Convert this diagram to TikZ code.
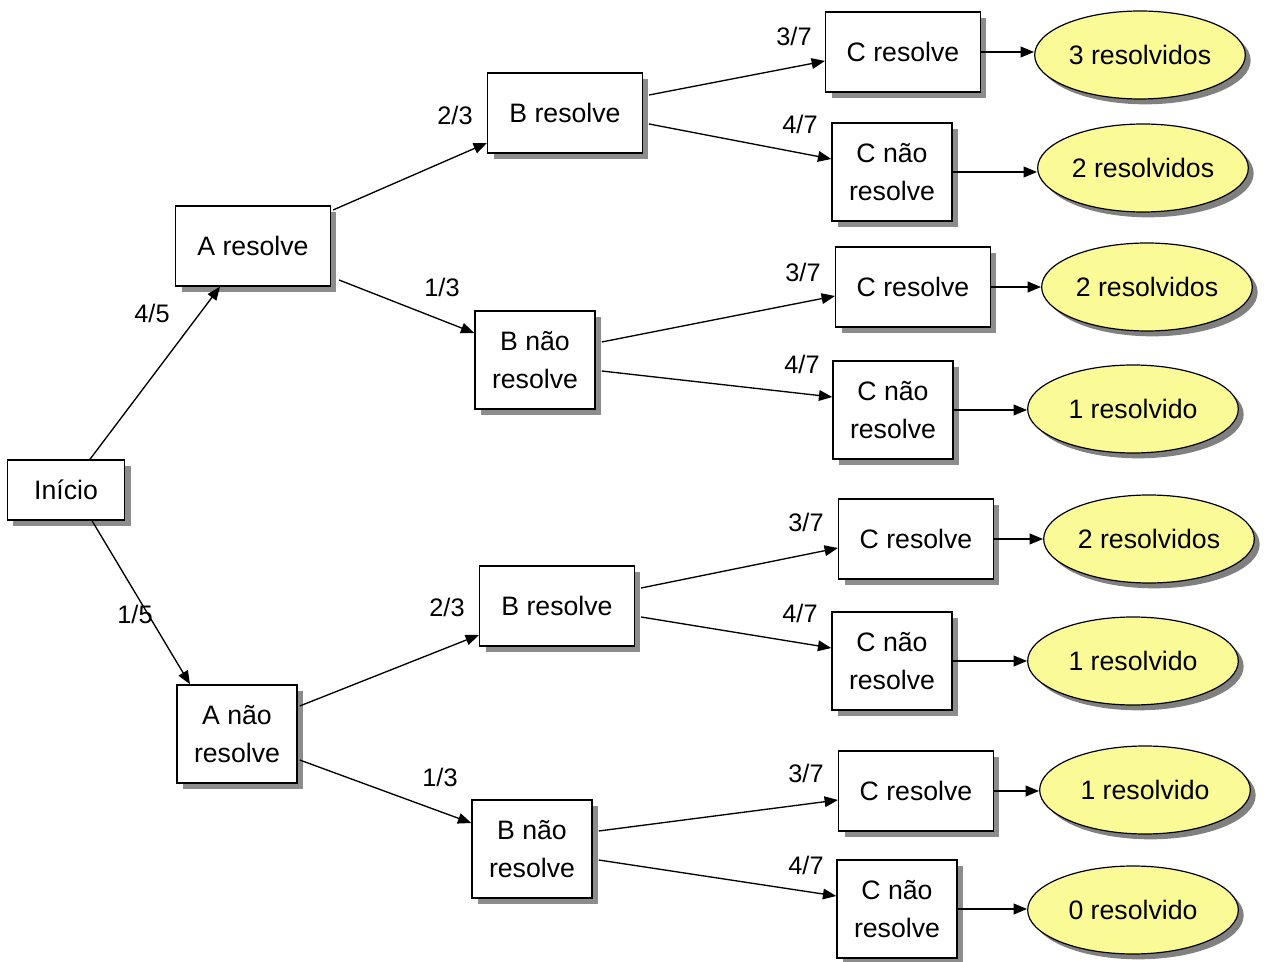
\documentclass[tikz,border=0pt]{standalone}
\usepackage{fontspec}
\setmainfont{Liberation Sans}
\usetikzlibrary{shapes.geometric,shadows,arrows.meta,calc}
\definecolor{outcomeyellow}{RGB}{250,250,150}
\begin{document}
\begin{tikzpicture}[x={(0.75pt,0pt)}, y={(0pt,-0.75pt)},
    box/.style={draw, line width=1.1pt, fill=white, inner sep=0pt, align=center,
        font=\fontsize{20}{28}\selectfont,
        drop shadow={shadow xshift=4.5pt, shadow yshift=-4.5pt, fill=black!45, opacity=1}},
    widebox/.style={box, minimum width=116pt, minimum height=60pt},
    tallbox/.style={box, minimum width=90pt, minimum height=73.5pt},
    outcome/.style={ellipse, draw, line width=0.9pt, fill=outcomeyellow, inner sep=0pt,
        minimum width=158pt, minimum height=66pt, font=\fontsize{20}{24}\selectfont,
        drop shadow={shadow xshift=4pt, shadow yshift=-4pt, fill=black!50, opacity=1}},
    prob/.style={font=\fontsize{19}{22}\selectfont, inner sep=1pt},
    edge/.style={line width=1pt, -{Triangle[length=10pt,width=8pt]}}]
    \useasboundingbox (0,0) rectangle (1272,962);
    \node[box, minimum width=88pt, minimum height=45pt] (ini) at (66,490) {Início};
    \node[widebox] (ar) at (253,246) {A resolve};
    \node[tallbox] (an) at (237,734) {A não\\resolve};
    \foreach \n/\x/\y in {b1/565/113, b3/557/606}
        \node[widebox] (\n) at (\x,\y) {B resolve};
    \foreach \n/\x/\y in {b2/535/360, b4/532/849}
        \node[tallbox] (\n) at (\x,\y) {B não\\resolve};
    \foreach[count=\k] \x/\y in {903/52, 913/287, 916/539, 916/791}
        \node[widebox] (cr\k) at (\x,\y) {C resolve};
    \foreach[count=\k] \x/\y in {892/172, 893/410, 892/661, 897/909}
        \node[tallbox] (cn\k) at (\x,\y) {C não\\resolve};
    \foreach \n/\x/\y/\t in {er1/1140/55/3 resolvidos, en1/1143/168/2 resolvidos,
            er2/1147/287/2 resolvidos, en2/1133/409/1 resolvido,
            er3/1149/539/2 resolvidos, en3/1133/661/1 resolvido,
            er4/1145/790/1 resolvido, en4/1133/910/0 resolvido}
        \node[outcome] (\n) at (\x,\y) {\t};
    % first two levels
    \draw[edge] ($(ini.north)+(24,0)$) -- ($(ar.south)+(-33,0)$);
    \draw[edge] ($(ini.south)+(26,0)$) -- ($(an.north)+(-47,0)$);
    \draw[edge] ($(ar.east)+(2,-36)$) -- ($(b1.west)+(0,30)$);
    \draw[edge] ($(ar.east)+(8,34)$) -- ($(b2.west)+(0,-27)$);
    \draw[edge] ($(an.east)+(2,-28)$) -- ($(b3.west)+(0,29)$);
    \draw[edge] ($(an.east)+(2,26)$) -- ($(b4.west)+(0,-26)$);
    % last level and outcomes
    \foreach \k in {1,...,4}
    {%
        \draw[edge] ($(b\k.east)+(6,-18)$) -- ($(cr\k.west)+(0,9)$);
        \draw[edge] ($(b\k.east)+(6,11)$) -- ($(cn\k.west)+(0,-13)$);
        \draw[edge] (cr\k.east) -- (cr\k.east -| er\k.west);
        \draw[edge] (cn\k.east) -- (cn\k.east -| en\k.west);
    }
    \foreach[count=\k] \x/\y/\p/\q in {152/313/4/5, 135/614/1/5, 455/115/2/3, 442/287/1/3,
            447/607/2/3, 440/777/1/3, 794/36/3/7, 800/124/4/7, 803/272/3/7, 802/364/4/7,
            806/522/3/7, 800/613/4/7, 806/773/3/7, 806/865/4/7}
        \node[prob] (p\k) at (\x,\y) {\p/\q};
\end{tikzpicture}
\end{document}
